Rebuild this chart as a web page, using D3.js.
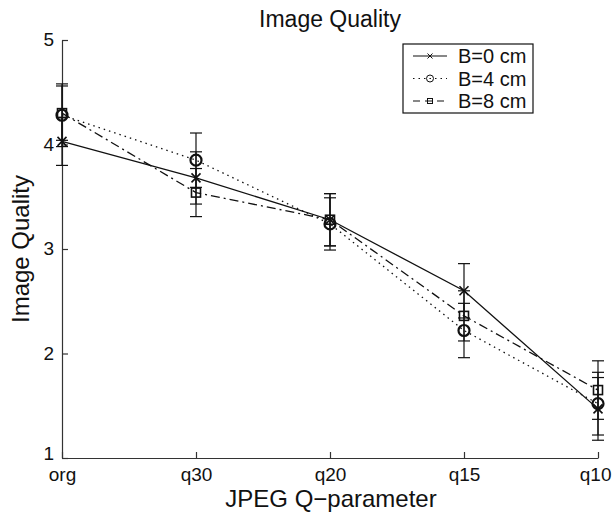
<!DOCTYPE html>
<html>
<head>
<meta charset="utf-8">
<script src="https://cdn.jsdelivr.net/npm/d3@7"></script>
<style>
  body { margin: 0; background: #fff; }
  text { font-family: "Liberation Sans", Arial, sans-serif; fill: #111; }
</style>
</head>
<body>
<svg id="chart" width="613" height="515"></svg>
<script>
// categories and tick labels
var categories = ["org", "q30", "q20", "q15", "q10"];
var yTicks = [1, 2, 3, 4, 5];

// series means
var b0 = [4.03, 3.68, 3.28, 2.60, 1.47];
var b4 = [4.28, 3.85, 3.24, 2.22, 1.52];
var b8 = [4.30, 3.54, 3.28, 2.36, 1.65];

// error bar half widths
var b0Err = [0.23, 0.25, 0.25, 0.26, 0.30];
var b4Err = [0.30, 0.26, 0.25, 0.26, 0.30];
var b8Err = [0.26, 0.23, 0.25, 0.24, 0.28];

var seriesNames = ["B=0 cm", "B=4 cm", "B=8 cm"];

var series = [
  { name: seriesNames[0], values: b0, err: b0Err, dash: null, marker: "x" },
  { name: seriesNames[1], values: b4, err: b4Err, dash: "1.5,4", marker: "o" },
  { name: seriesNames[2], values: b8, err: b8Err, dash: "9,4,2,4", marker: "s" }
];

var svg = d3.select("#chart");
var margin = { left: 62, right: 15, top: 40, bottom: 57 };
var width = 613 - margin.left - margin.right;
var height = 515 - margin.top - margin.bottom;

var g = svg.append("g").attr("transform", "translate(" + margin.left + "," + margin.top + ")");

var x = d3.scalePoint().domain(categories).range([0, width]);
var y = d3.scaleLinear().domain([1, 5]).range([height, 0]);

// axes
var xAxis = d3.axisBottom(x).tickSizeInner(-6).tickSizeOuter(0).tickPadding(9);
var yAxis = d3.axisLeft(y).tickValues(yTicks).tickFormat(d3.format("d")).tickSizeInner(-6).tickSizeOuter(0).tickPadding(8);

var gx = g.append("g").attr("transform", "translate(0," + height + ")").call(xAxis);
gx.selectAll("text").attr("font-size", 19).attr("dy", "0.72em");
// last label sits against the right edge, as in the reference
gx.selectAll(".tick").filter(function(d) { return d === "q10"; }).select("text")
  .attr("text-anchor", "end").attr("x", 13);
var gy = g.append("g").call(yAxis);
gy.selectAll("text").attr("font-size", 19).attr("dy", "0.3em");
gy.selectAll(".tick").filter(function(d) { return d === 1; }).select("text").attr("dy", "0.1em");
g.selectAll(".domain, .tick line").attr("stroke", "#333").attr("stroke-width", 1.2);

// lines
var line = d3.line()
  .x(function(d, i) { return x(categories[i]); })
  .y(function(d) { return y(d); });

series.forEach(function(s) {
  g.append("path")
    .datum(s.values)
    .attr("d", line)
    .attr("fill", "none")
    .attr("stroke", "#111")
    .attr("stroke-width", 1.3)
    .attr("stroke-dasharray", s.dash);

  // error bars
  var eb = g.append("g").attr("stroke", "#111").attr("stroke-width", 1.2);
  s.values.forEach(function(v, i) {
    var cx = x(categories[i]);
    var lo = y(v - s.err[i]), hi = y(v + s.err[i]);
    eb.append("line").attr("x1", cx).attr("x2", cx).attr("y1", lo).attr("y2", hi);
    eb.append("line").attr("x1", cx - 6).attr("x2", cx + 6).attr("y1", lo).attr("y2", lo);
    eb.append("line").attr("x1", cx - 6).attr("x2", cx + 6).attr("y1", hi).attr("y2", hi);
  });
});

function drawMarker(sel, type, cx, cy, r, sw) {
  if (type === "x") {
    sel.append("path")
      .attr("d", "M" + (cx - r) + "," + (cy - r) + "L" + (cx + r) + "," + (cy + r) +
                 "M" + (cx - r) + "," + (cy + r) + "L" + (cx + r) + "," + (cy - r))
      .attr("stroke", "#111").attr("stroke-width", sw).attr("fill", "none");
  } else if (type === "o") {
    sel.append("circle").attr("cx", cx).attr("cy", cy).attr("r", r)
      .attr("stroke", "#111").attr("stroke-width", sw).attr("fill", "none");
  } else {
    sel.append("rect").attr("x", cx - r).attr("y", cy - r).attr("width", 2 * r).attr("height", 2 * r)
      .attr("stroke", "#111").attr("stroke-width", sw).attr("fill", "none");
  }
}

// markers
series.forEach(function(s) {
  var mg = g.append("g");
  s.values.forEach(function(v, i) {
    var r = s.marker === "x" ? 4.5 : (s.marker === "o" ? 5.5 : 4.5);
    drawMarker(mg, s.marker, x(categories[i]), y(v), r, s.marker === "o" ? 2.2 : 1.6);
  });
});

// title and axis labels
svg.append("text").attr("x", 330).attr("y", 27).attr("text-anchor", "middle")
  .attr("font-size", 23).text("Image Quality");
svg.append("text").attr("x", 331).attr("y", 507).attr("text-anchor", "middle")
  .attr("font-size", 24).text("JPEG Q\u2212parameter");
svg.append("text").attr("transform", "translate(29,249) rotate(-90)").attr("text-anchor", "middle")
  .attr("font-size", 24).text("Image Quality");

// legend
var lg = svg.append("g").attr("transform", "translate(403,44)");
lg.append("rect").attr("width", 130).attr("height", 69)
  .attr("fill", "#fff").attr("stroke", "#111").attr("stroke-width", 1.2);
series.forEach(function(s, i) {
  var ry = 12 + i * 22.5;
  lg.append("line").attr("x1", 10).attr("x2", 44).attr("y1", ry).attr("y2", ry)
    .attr("stroke", "#111").attr("stroke-width", 1.1).attr("stroke-dasharray", s.dash === "9,4,2,4" ? "7,5" : s.dash);
  drawMarker(lg, s.marker, 27, ry, s.marker === "o" ? 3.5 : 2.5, 1);
  lg.append("text").attr("x", 55).attr("y", ry + 7).attr("font-size", 20).text(s.name);
});
</script>
</body>
</html>
